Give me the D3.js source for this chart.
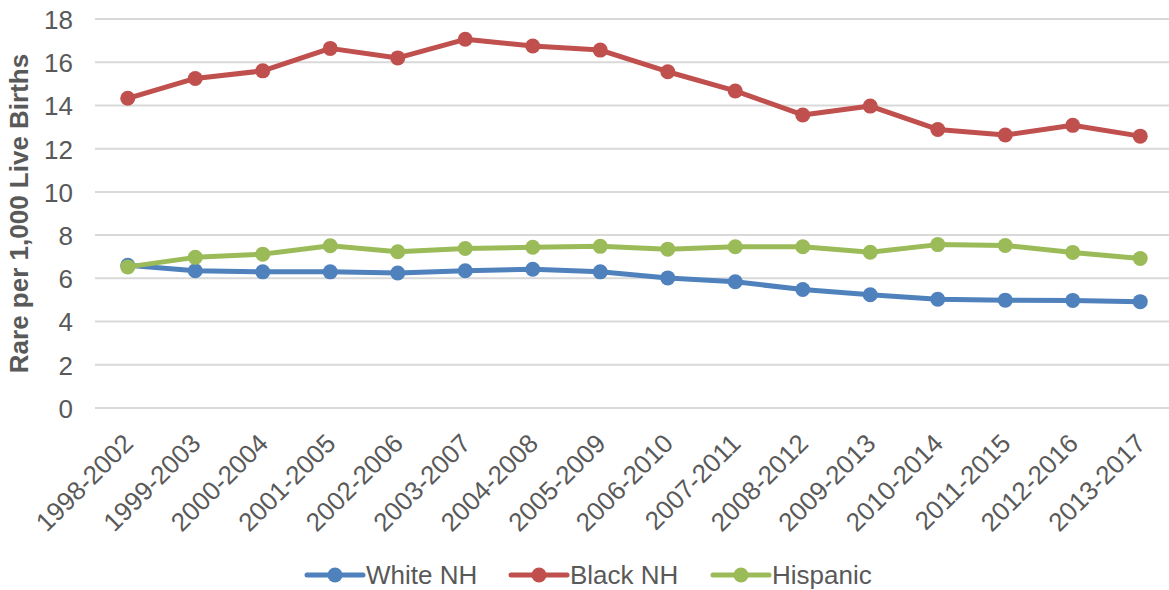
<!DOCTYPE html>
<html>
<head>
<meta charset="utf-8">
<script src="https://cdn.jsdelivr.net/npm/d3@7"></script>
<style>
  html, body { margin: 0; padding: 0; background: #fff; }
  svg { display: block; font-family: "Liberation Sans", Arial, sans-serif; }
</style>
</head>
<body>
<svg id="chart" width="1169" height="590"></svg>
<script>
const categories = ["1998-2002","1999-2003","2000-2004","2001-2005","2002-2006","2003-2007","2004-2008","2005-2009","2006-2010","2007-2011","2008-2012","2009-2013","2010-2014","2011-2015","2012-2016","2013-2017"];
const whiteNH  = [6.6, 6.35, 6.3, 6.3, 6.25, 6.35, 6.42, 6.3, 6.02, 5.84, 5.48, 5.24, 5.03, 4.99, 4.98, 4.92];
const blackNH  = [14.33, 15.25, 15.6, 16.64, 16.2, 17.06, 16.75, 16.56, 15.56, 14.67, 13.56, 13.97, 12.89, 12.63, 13.08, 12.58];
const hispanic = [6.53, 6.97, 7.12, 7.51, 7.23, 7.38, 7.44, 7.48, 7.35, 7.46, 7.46, 7.21, 7.56, 7.52, 7.2, 6.92];
const yTicks = [0, 2, 4, 6, 8, 10, 12, 14, 16, 18];
const seriesNames = ["White NH", "Black NH", "Hispanic"];
const seriesColors = ["#4F81BD", "#C0504D", "#9BBB59"];
const yTitle = "Rare per 1,000 Live Births";

const series = [whiteNH, blackNH, hispanic].map((vals, i) => ({name: seriesNames[i], color: seriesColors[i], values: vals}));

const svg = d3.select("#chart");
const textColor = "#595959";
const gridColor = "#D9D9D9";
const fs = 26;

const x = d3.scaleBand().domain(categories).range([94, 1174]);
const y = d3.scaleLinear().domain([0, 18]).range([408, 19]);
const cx = d => x(d) + x.bandwidth() / 2;

// gridlines
svg.append("g").selectAll("line").data(yTicks).join("line")
  .attr("x1", 95).attr("x2", 1169)
  .attr("y1", d => y(d)).attr("y2", d => y(d))
  .attr("stroke", gridColor).attr("stroke-width", 2);

// y axis labels
const yAxis = d3.axisLeft(y).tickValues(yTicks).tickSize(0).tickPadding(0).tickFormat(d3.format("d"));
const gy = svg.append("g").attr("transform", "translate(73,0)").call(yAxis);
gy.select(".domain").remove();
gy.selectAll("text").attr("fill", textColor).style("font-size", fs + "px")
  .style("font-family", "'Liberation Sans', Arial, sans-serif").attr("dy", "0.36em");

// x axis labels
const xAxis = d3.axisBottom(x).tickSize(0).tickPadding(0);
const gx = svg.append("g").attr("transform", "translate(0,408)").call(xAxis);
gx.select(".domain").remove();
gx.selectAll(".tick text")
  .attr("fill", textColor).style("font-size", fs + "px")
  .style("font-family", "'Liberation Sans', Arial, sans-serif")
  .attr("text-anchor", "end")
  .attr("x", 0).attr("y", 0).attr("dy", 0)
  .attr("transform", "translate(7,37) rotate(-45)");

// y title
svg.append("text")
  .attr("transform", `translate(28,${(19 + 408) / 2}) rotate(-90)`)
  .attr("text-anchor", "middle")
  .attr("fill", textColor)
  .style("font-size", fs + "px").style("font-weight", "bold")
  .text(yTitle);

// lines and markers
const line = d3.line().x((d, i) => cx(categories[i])).y(d => y(d));
const gs = svg.append("g").selectAll("g").data(series).join("g");
gs.append("path")
  .attr("d", d => line(d.values))
  .attr("fill", "none").attr("stroke", d => d.color)
  .attr("stroke-width", 5).attr("stroke-linejoin", "round").attr("stroke-linecap", "round");
gs.selectAll("circle").data(d => d.values.map(v => ({v, c: d.color}))).join("circle")
  .attr("cx", (d, i) => cx(categories[i])).attr("cy", d => y(d.v))
  .attr("r", 7.5).attr("fill", d => d.c);

// legend
const legendX = [307, 511, 713];
const lg = svg.append("g").selectAll("g").data(series).join("g")
  .attr("transform", (d, i) => `translate(${legendX[i]},575)`);
lg.append("line").attr("x1", 0).attr("x2", 56).attr("y1", 0).attr("y2", 0)
  .attr("stroke", d => d.color).attr("stroke-width", 5).attr("stroke-linecap", "round");
lg.append("circle").attr("cx", 28).attr("cy", 0).attr("r", 7.5).attr("fill", d => d.color);
lg.append("text").attr("x", 59).attr("y", 0).attr("dy", "0.36em")
  .attr("fill", textColor).style("font-size", fs + "px")
  .text(d => d.name);
</script>
</body>
</html>
